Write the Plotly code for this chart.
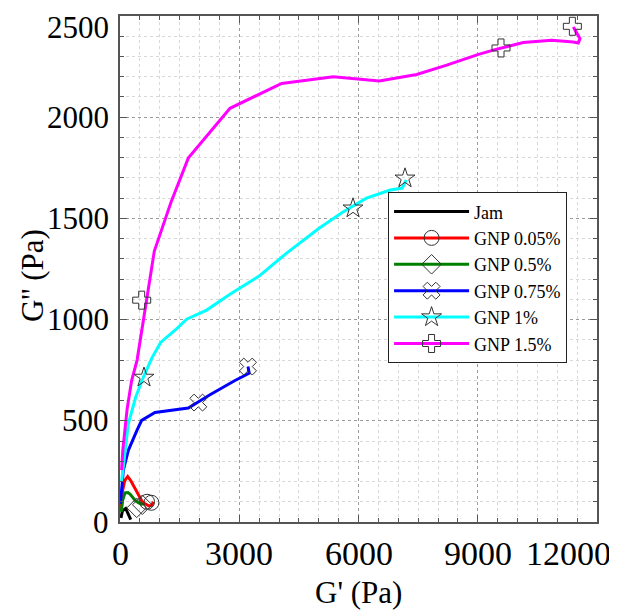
import plotly.graph_objects as go

# ---- data (G' in Pa, G'' in Pa) ----
series_names = ["Jam", "GNP 0.05%", "GNP 0.5%", "GNP 0.75%", "GNP 1%", "GNP 1.5%"]
series_colors = ["#000000", "#ff0000", "#008000", "#0000ff", "#00ffff", "#ff00ff"]
series_symbols = [None, "circle-open", "diamond-open", "x-open", "star-open", "cross-open"]

jam_gp = [25, 60, 143, 200, 270]
jam_gpp = [20, 55, 67, 45, 12]

gnp005_gp = [30, 60, 120, 193, 270, 335, 478, 560, 629, 720, 797, 840]
gnp005_gpp = [60, 150, 205, 225, 205, 180, 125, 100, 90, 80, 82, 100]

gnp05_gp = [30, 70, 126, 200, 252, 320, 377, 460, 545, 600]
gnp05_gpp = [50, 110, 144, 145, 138, 120, 108, 95, 88, 90]

gnp075_gp = [10, 84, 210, 293, 420, 545, 880, 1718, 2264, 2893, 3150, 3250, 3220]
gnp075_gpp = [90, 256, 354, 395, 450, 502, 541, 563, 629, 699, 725, 735, 768]

gnp1_gp = [40, 126, 210, 400, 587, 800, 1023, 1400, 1677, 2180, 2767, 3500, 4200,
           5000, 5600, 6200, 6800, 7100, 7200]
gnp1_gpp = [200, 354, 486, 620, 715, 810, 887, 950, 1002, 1047, 1125, 1215, 1330,
            1450, 1530, 1600, 1640, 1650, 1690]

gnp15_gp = [40, 70, 180, 293, 430, 669, 864, 1283, 1718, 2767, 4068, 5366, 6523,
            7464, 8219, 8999, 9434, 10146, 10860, 11404, 11530, 11572, 11404]
gnp15_gpp = [256, 354, 560, 699, 800, 1096, 1339, 1580, 1798, 2044, 2167, 2200, 2179,
             2211, 2257, 2309, 2334, 2369, 2380, 2372, 2367, 2388, 2446]

# measured points shown as markers
mk005_gp = [680, 790]
mk005_gpp = [100, 95]
mk05_gp = [420, 560]
mk05_gpp = [70, 85]
mk075_gp = [1970, 3220]
mk075_gpp = [590, 768]
mk1_gp = [604, 5862, 7170]
mk1_gpp = [714, 1550, 1698]
mk15_gp = [546, 9585, 11380]
mk15_gpp = [1096, 2342, 2449]

x_tick_vals = [0, 3000, 6000, 9000, 12000]
x_tick_text = ["0", "3000", "6000", "9000", "12000"]
y_tick_vals = [0, 500, 1000, 1500, 2000, 2500]
y_tick_text = ["0", "500", "1000", "1500", "2000", "2500"]

lines_gp = [jam_gp, gnp005_gp, gnp05_gp, gnp075_gp, gnp1_gp, gnp15_gp]
lines_gpp = [jam_gpp, gnp005_gpp, gnp05_gpp, gnp075_gpp, gnp1_gpp, gnp15_gpp]
marks_gp = [None, mk005_gp, mk05_gp, mk075_gp, mk1_gp, mk15_gp]
marks_gpp = [None, mk005_gpp, mk05_gpp, mk075_gpp, mk1_gpp, mk15_gpp]

FONT = "Liberation Serif"
MK_COLOR = "#333333"
MK_SIZE = 15

fig = go.Figure()

for i, name in enumerate(series_names):
    sym = series_symbols[i]
    if sym is None:
        fig.add_trace(go.Scatter(x=lines_gp[i], y=lines_gpp[i], mode="lines", name=name,
                                 line=dict(color=series_colors[i], width=3)))
    else:
        fig.add_trace(go.Scatter(
            x=lines_gp[i], y=lines_gpp[i], mode="lines+markers", name=name,
            line=dict(color=series_colors[i], width=3),
            marker=dict(symbol=sym, size=MK_SIZE, color=MK_COLOR, line=dict(width=1, color=MK_COLOR)),
            selectedpoints=[], unselected=dict(marker=dict(opacity=0)),
        ))
for i, name in enumerate(series_names):
    sym = series_symbols[i]
    if sym is None:
        continue
    fig.add_trace(go.Scatter(
        x=marks_gp[i], y=marks_gpp[i], mode="markers", showlegend=False,
        marker=dict(symbol=sym, size=MK_SIZE, color=MK_COLOR, line=dict(width=1, color=MK_COLOR)),
        hoverinfo="skip",
    ))

axis_common = dict(
    showline=True, linecolor="#555555", linewidth=1.5, mirror="ticks",
    ticks="inside", ticklen=7, tickcolor="#555555", tickwidth=1,
    showticklabels=False, zeroline=False,
    showgrid=True, gridcolor="#9a9a9a", griddash="dot", gridwidth=1,
)

fig.update_xaxes(range=[0, 12000], tickvals=x_tick_vals,
                 minor=dict(dtick=500, tick0=0, showgrid=True, gridcolor="#d8d8d8", griddash="dot",
                            ticks="inside", ticklen=4, tickcolor="#555555"),
                 **axis_common)
fig.update_yaxes(range=[0, 2500], tickvals=y_tick_vals,
                 minor=dict(dtick=100, tick0=0, showgrid=True, gridcolor="#d8d8d8", griddash="dot",
                            ticks="inside", ticklen=4, tickcolor="#555555"),
                 **axis_common)

annotations = []
for v, t in zip(x_tick_vals, x_tick_text):
    shift = -29 if v == 12000 else 0
    annotations.append(dict(x=v, y=0, xref="x", yref="paper", text=t, showarrow=False,
                            xanchor="center", yanchor="middle", yshift=-31, xshift=shift,
                            font=dict(family=FONT, size=34, color="black")))
for v, t in zip(y_tick_vals, y_tick_text):
    shift = -11 if v == 2500 else 0
    annotations.append(dict(x=0, y=v, xref="paper", yref="y", text=t, showarrow=False,
                            xanchor="right", yanchor="middle", xshift=-9, yshift=shift,
                            font=dict(family=FONT, size=31, color="black")))
annotations.append(dict(x=0.5, y=0, xref="paper", yref="paper", text="G' (Pa)", showarrow=False,
                        xanchor="center", yanchor="middle", yshift=-70,
                        font=dict(family=FONT, size=31, color="black")))
annotations.append(dict(x=0, y=0.486, xref="paper", yref="paper", text="G'' (Pa)", showarrow=False,
                        xanchor="center", yanchor="middle", xshift=-88, textangle=-90,
                        font=dict(family=FONT, size=31, color="black")))

# page body adds an 8px margin, so the figure is 609x602 and placed at (8, 8)
fig.update_layout(
    width=609, height=602,
    margin=dict(l=112, r=20, t=6, b=88),
    plot_bgcolor="white", paper_bgcolor="white",
    font=dict(family=FONT, color="black"),
    showlegend=True,
    legend=dict(x=0.562, y=0.6516, xanchor="left", yanchor="top",
                bgcolor="white", bordercolor="#222222", borderwidth=1,
                font=dict(family=FONT, size=18, color="black"),
                itemwidth=75, tracegroupgap=0),
    annotations=annotations,
)

fig.write_html("out.html")
